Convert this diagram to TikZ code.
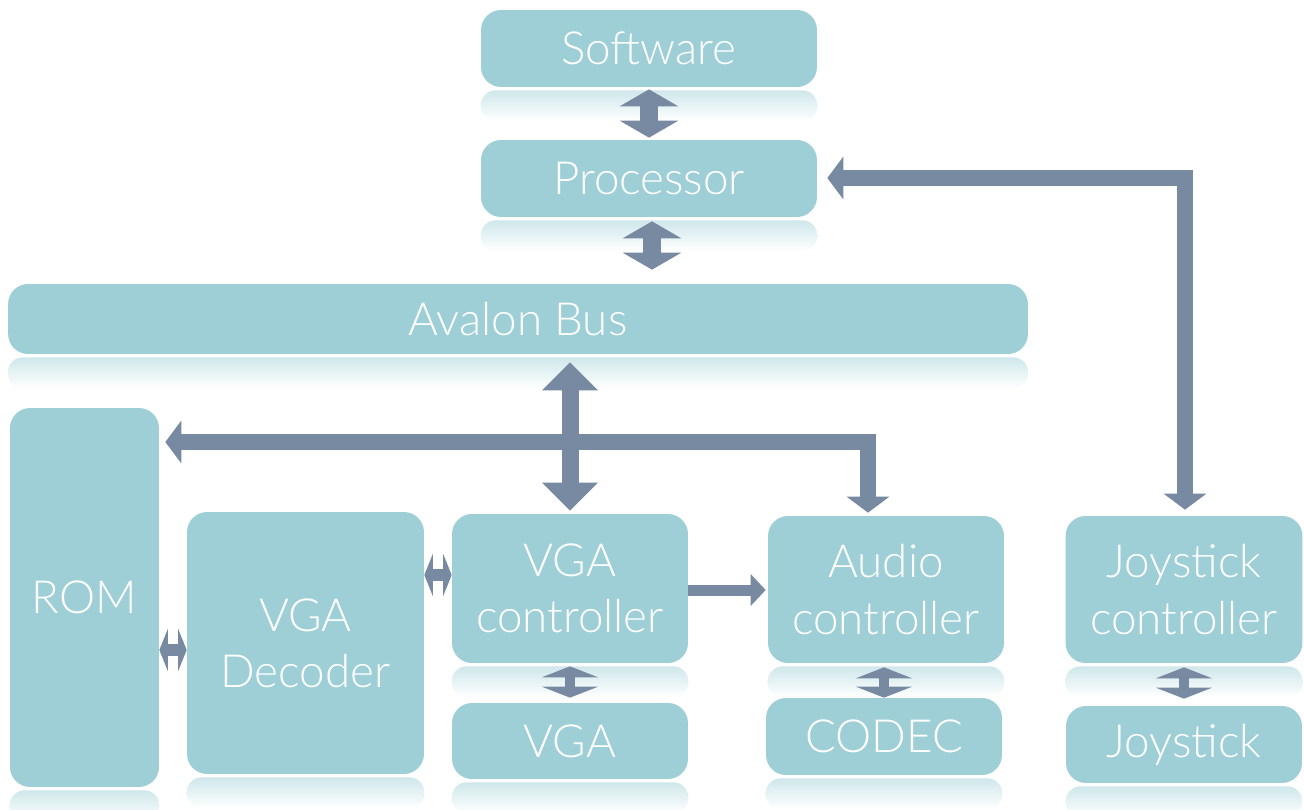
\documentclass[tikz,border=0pt]{standalone}
\usepackage{fontspec}
\setmainfont{Lato Light}
\usetikzlibrary{arrows.meta,calc}
\definecolor{boxteal}{HTML}{9ECFD6}
\definecolor{arrslate}{HTML}{7889A2}
\newcommand{\mirror}[1]{\shade[top color=boxteal!50!white, bottom color=white, rounded corners=0.3cm] ($(#1.south west)+(0,3)$) rectangle ($(#1.south east)+(0,34)$);}

\begin{document}
\begin{tikzpicture}[x=0.02cm, y=-0.02cm,
    blk/.style={fill=boxteal, rounded corners=0.4cm, text=white, align=center, inner sep=0pt, font=\fontsize{26}{32}\selectfont},
    midarr/.style={arrslate, line width=0.36cm, {Triangle[width=1.16cm,length=0.34cm]}-{Triangle[width=1.16cm,length=0.34cm]}},
    fatarr/.style={arrslate, line width=0.34cm, {Triangle[width=1.08cm,length=0.56cm]}-{Triangle[width=1.08cm,length=0.56cm]}},
    wire/.style={arrslate, line width=0.32cm, {Triangle[width=0.84cm,length=0.32cm]}-{Triangle[width=0.84cm,length=0.32cm]}},
    tinyv/.style={arrslate, line width=0.2cm, {Triangle[width=1.12cm,length=0.22cm]}-{Triangle[width=1.12cm,length=0.22cm]}},
    tinyh/.style={arrslate, line width=0.24cm, {Triangle[width=0.84cm,length=0.17cm]}-{Triangle[width=0.84cm,length=0.17cm]}},
    push/.style={arrslate, line width=0.22cm, -{Triangle[width=0.62cm,length=0.3cm]}}]
    \useasboundingbox (0,0) rectangle (1304,810);
    \node[blk, minimum width=6.72cm, minimum height=1.54cm] (sw) at (649,48.5) {Software};
    \node[blk, minimum width=6.72cm, minimum height=1.54cm] (proc) at (649,178.5) {Processor};
    \node[blk, minimum width=20.4cm, minimum height=1.4cm] (bus) at (518,319) {Avalon Bus};
    \node[blk, minimum width=2.98cm, minimum height=7.58cm] (rom) at (84.5,597.5) {ROM};
    \node[blk, minimum width=4.74cm, minimum height=5.24cm] (dec) at (305.5,643) {VGA\\Decoder};
    \node[blk, minimum width=4.72cm, minimum height=2.98cm] (vgac) at (570,588.5) {VGA\\controller};
    \node[blk, minimum width=4.72cm, minimum height=2.94cm] (audc) at (886,589.5) {Audio\\controller};
    \node[blk, minimum width=4.74cm, minimum height=2.94cm] (joyc) at (1184,589.5) {Joystick\\controller};
    \mirror{sw} \mirror{proc} \mirror{bus} \mirror{rom} \mirror{dec}
    \mirror{vgac} \mirror{audc} \mirror{joyc}
    \node[blk, minimum width=4.72cm, minimum height=1.52cm] (vga) at (570,741) {VGA};
    \node[blk, minimum width=4.72cm, minimum height=1.54cm] (codec) at (884,736.5) {CODEC};
    \node[blk, minimum width=4.72cm, minimum height=1.54cm] (joy) at (1184,744.5) {Joystick};
    \mirror{vga} \mirror{codec} \mirror{joy}
    \coordinate (romtap) at (868,442);
    \coordinate (joytap) at (1185,178);
    \draw[midarr, shorten <=0.04cm, shorten >=0.04cm] (sw.south) -- (proc.north);
    \draw[midarr, shorten <=0.08cm, shorten >=0.28cm] ([xshift=0.06cm]proc.south) -- ([xshift=0.06cm]proc.south |- bus.north);
    \draw[fatarr, shorten <=0.16cm, shorten >=0.06cm] (vgac.north |- bus.south) -- (vgac.north);
    \draw[wire, shorten <=0.12cm, shorten >=0.06cm] (rom.east |- romtap) -- (romtap) -- (romtap |- audc.north);
    \draw[wire, shorten <=0.2cm, shorten >=0.12cm] (proc.east |- joytap) -- (joytap) -- (joytap |- joyc.north);
    \draw[push, shorten >=0.04cm] (vgac.east |- 0,590) -- (audc.west |- 0,590);
    \draw[tinyh] (rom.east |- 0,650) -- (dec.west |- 0,650);
    \draw[tinyh] (dec.east |- 0,575) -- (vgac.west |- 0,575);
    \draw[tinyv, shorten <=0.06cm, shorten >=0.1cm] (vgac.south) -- (vga.north);
    \draw[tinyv, shorten <=0.08cm] (codec.north |- audc.south) -- (codec.north);
    \draw[tinyv, shorten <=0.08cm, shorten >=0.14cm] (joyc.south) -- (joy.north);
\end{tikzpicture}
\end{document}
